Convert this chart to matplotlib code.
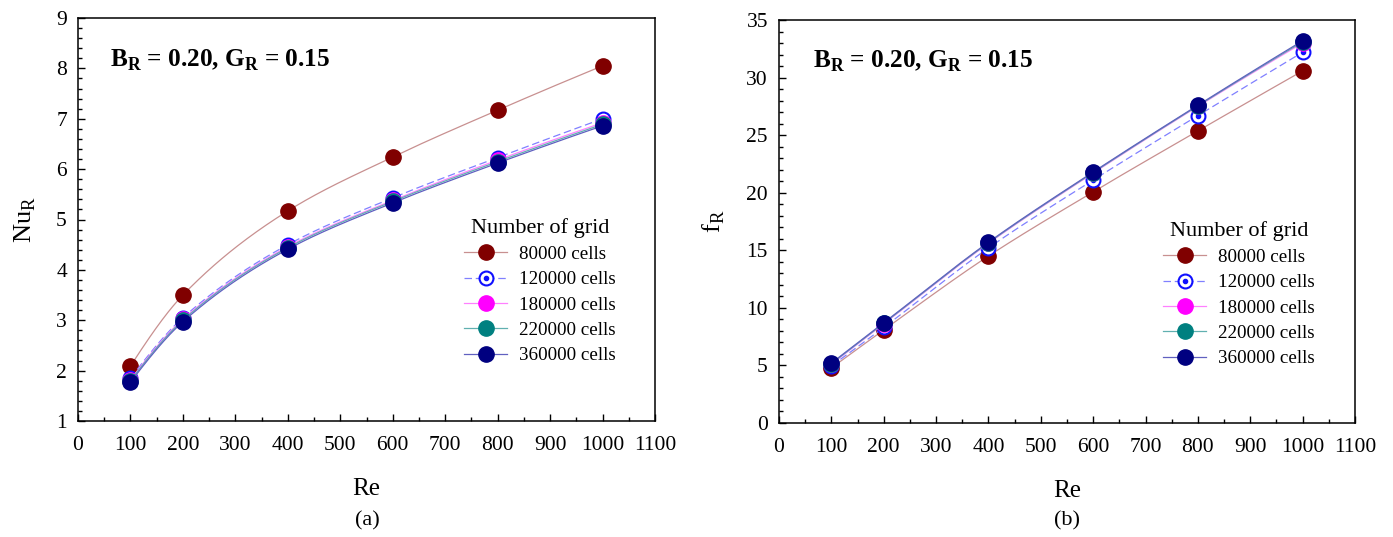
import numpy as np
import matplotlib
matplotlib.use("Agg")
import matplotlib.pyplot as plt
from matplotlib.ticker import MultipleLocator

plt.rcParams['font.family'] = ['Liberation Serif', 'DejaVu Serif']
plt.rcParams['mathtext.fontset'] = 'custom'
plt.rcParams['mathtext.rm'] = 'Liberation Serif'
plt.rcParams['mathtext.bf'] = 'Liberation Serif:bold'

# Reynolds numbers
Re = [100, 200, 400, 600, 800, 1000]

grids = ["80000 cells", "120000 cells", "180000 cells", "220000 cells", "360000 cells"]

# Nusselt ratio per grid
nu_80k = [2.09, 3.50, 5.17, 6.24, 7.17, 8.05]
nu_120k = [1.85, 3.05, 4.50, 5.43, 6.23, 7.00]
nu_180k = [1.82, 3.02, 4.46, 5.38, 6.18, 6.92]
nu_220k = [1.80, 3.00, 4.44, 5.36, 6.15, 6.89]
nu_360k = [1.77, 2.97, 4.41, 5.33, 6.12, 6.86]

# friction factor ratio per grid
f_80k = [4.78, 8.08, 14.5, 20.07, 25.37, 30.58]
f_120k = [4.95, 8.3, 15.2, 21.1, 26.7, 32.2]
f_180k = [5.1, 8.6, 15.6, 21.7, 27.5, 33.0]
f_220k = [5.15, 8.65, 15.65, 21.75, 27.55, 33.1]
f_360k = [5.2, 8.7, 15.7, 21.8, 27.6, 33.2]

nu_sets = [nu_80k, nu_120k, nu_180k, nu_220k, nu_360k]
f_sets = [f_80k, f_120k, f_180k, f_220k, f_360k]

# (marker colour, line colour, line style, hollow)
styles = [
    ("#800000", "#c89090", "-", False),
    ("#1010ff", "#8080ff", (0, (6, 3)), True),
    ("#ff00ff", "#ff80ff", "-", False),
    ("#008080", "#60b0b0", "-", False),
    ("#000080", "#6060c0", "-", False),
]


def pchip(x, y, xs):
    # monotone cubic (Fritsch-Carlson) for smooth connecting curves
    x = np.asarray(x, float)
    y = np.asarray(y, float)
    h = np.diff(x)
    d = np.diff(y) / h
    m = np.zeros_like(y)
    for k in range(1, len(x) - 1):
        if d[k - 1] * d[k] > 0:
            w1 = 2 * h[k] + h[k - 1]
            w2 = h[k] + 2 * h[k - 1]
            m[k] = (w1 + w2) / (w1 / d[k - 1] + w2 / d[k])
    m[0] = ((2 * h[0] + h[1]) * d[0] - h[0] * d[1]) / (h[0] + h[1])
    if np.sign(m[0]) != np.sign(d[0]):
        m[0] = 0
    m[-1] = ((2 * h[-1] + h[-2]) * d[-1] - h[-1] * d[-2]) / (h[-1] + h[-2])
    if np.sign(m[-1]) != np.sign(d[-1]):
        m[-1] = 0
    out = np.empty_like(xs)
    for i, xv in enumerate(xs):
        k = min(np.searchsorted(x, xv, side="right") - 1, len(x) - 2)
        t = (xv - x[k]) / h[k]
        h00 = 2 * t**3 - 3 * t**2 + 1
        h10 = t**3 - 2 * t**2 + t
        h01 = -2 * t**3 + 3 * t**2
        h11 = t**3 - t**2
        out[i] = h00 * y[k] + h10 * h[k] * m[k] + h01 * y[k + 1] + h11 * h[k] * m[k + 1]
    return out


W, H = 1393, 537
fig = plt.figure(figsize=(W / 100, H / 100), dpi=100)
ax1 = fig.add_axes([78 / W, 1 - 421 / H, 577 / W, 403 / H])
ax2 = fig.add_axes([779 / W, 1 - 423 / H, 576 / W, 403 / H])

xs = np.linspace(100, 1000, 300)


def draw(ax, sets):
    handles = []
    for name, vals, (mc, lc, ls, hollow) in zip(grids, sets, styles):
        ax.plot(xs, pchip(Re, vals, xs), color=lc, ls=ls, lw=0.9)
        if hollow:
            ax.plot(Re, vals, ls="none", marker="o", ms=10, mfc="white",
                    mec=mc, mew=1.5)
            ax.plot(Re, vals, ls="none", marker="o", ms=3, color=mc)
            # legend entry: ring with a centre dot over a dashed stroke
            ring, = ax.plot([], [], color=lc, ls=ls, lw=0.9, marker="o",
                            ms=10, mfc="white", mec=mc, mew=1.5)
            dot, = ax.plot([], [], ls="none", marker="o", ms=3, color=mc)
            handles.append((ring, dot))
        else:
            ax.plot(Re, vals, ls="none", marker="o", ms=11, color=mc)
            h, = ax.plot([], [], color=lc, ls=ls, lw=0.9, marker="o",
                         ms=11, mfc=mc, mec=mc)
            handles.append(h)
    return handles


def style_axes(ax):
    ax.set_xlim(0, 1100)
    ax.xaxis.set_major_locator(MultipleLocator(100))
    ax.xaxis.set_minor_locator(MultipleLocator(50))
    ax.tick_params(which="both", direction="in", top=False, right=False,
                   labelsize=15.5, width=1.0)
    ax.tick_params(which="major", length=5)
    ax.tick_params(which="minor", length=3)
    ax.tick_params(axis="x", which="both", pad=11)
    ax.tick_params(axis="y", which="both", pad=8)
    for sp in ax.spines.values():
        sp.set_linewidth(1.1)


def finish(ax, handles, ylabel, ylab_x, note_x, note_y, leg_x, leg_y):
    ax.set_ylabel(ylabel, fontsize=19)
    ax.yaxis.set_label_coords(ylab_x, 0.5)
    ax.set_xlabel("Re", fontsize=18)
    ax.xaxis.set_label_coords(0.5, -0.142)
    ax.text(note_x, note_y, r"B$_\mathregular{R}$ = 0.20, G$_\mathregular{R}$ = 0.15",
            transform=ax.transAxes, fontsize=18.2, fontweight="bold",
            va="baseline")
    ax.legend(handles=handles, labels=grids, title="Number of grid",
              loc="center", bbox_to_anchor=(leg_x, leg_y), frameon=False,
              fontsize=13.7, title_fontsize=16, handlelength=2.26,
              handletextpad=0.6, labelspacing=0.42)


h1 = draw(ax1, nu_sets)
style_axes(ax1)
ax1.set_ylim(1, 9)
ax1.yaxis.set_major_locator(MultipleLocator(1))
ax1.yaxis.set_minor_locator(MultipleLocator(0.2))
finish(ax1, h1, r"Nu$_\mathregular{R}$", -0.07, 0.0555, 0.878, 0.8007, 0.3226)

h2 = draw(ax2, f_sets)
style_axes(ax2)
ax2.set_ylim(0, 35)
ax2.yaxis.set_major_locator(MultipleLocator(5))
ax2.yaxis.set_minor_locator(MultipleLocator(1))
finish(ax2, h2, r"f$_\mathregular{R}$", -0.09, 0.059, 0.881, 0.7986, 0.320)

fig.text(367 / W, 1 - 521 / H, "(a)", ha="center", va="center", fontsize=16)
fig.text(1067 / W, 1 - 521 / H, "(b)", ha="center", va="center", fontsize=16)

fig.savefig("out.png", dpi=100)
